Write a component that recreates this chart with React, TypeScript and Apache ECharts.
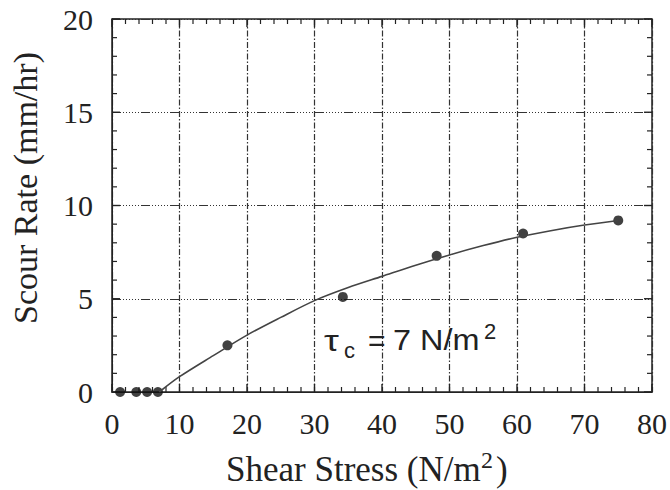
import React, { useEffect, useRef } from "react";
import * as echarts from "echarts";

// Measured data (shear stress N/m², scour rate mm/hr)
const measuredX = [1.2, 3.6, 5.2, 6.8, 17.1, 34.2, 48.1, 60.9, 75.0];
const measuredY = [0, 0, 0, 0, 2.5, 5.1, 7.3, 8.5, 9.2];

// Fitted curve
const fitX = [7, 10, 15, 20, 25, 30, 35, 40, 45, 50, 55, 60, 65, 70, 75];
const fitY = [0, 0.82, 1.95, 3.05, 4.0, 4.9, 5.6, 6.2, 6.8, 7.35, 7.85, 8.3, 8.65, 8.95, 9.2];

// Tick labels
const xTicks = [0, 10, 20, 30, 40, 50, 60, 70, 80];
const yTicks = [0, 5, 10, 15, 20];
const minorPerMajor = 5;

const SERIF = "Liberation Serif";
const SANS = "Liberation Sans";
const INK = "#222";

export default function App() {
  const ref = useRef<HTMLDivElement>(null);
  useEffect(() => {
    if (!ref.current) return;
    const chart = echarts.init(ref.current, undefined, { renderer: "svg" });
    const xMin = xTicks[0];
    const xMax = xTicks[xTicks.length - 1];
    const yMin = yTicks[0];
    const yMax = yTicks[yTicks.length - 1];
    const xStep = xTicks[1] - xTicks[0];
    const yStep = yTicks[1] - yTicks[0];

    chart.setOption({
      animation: false,
      textStyle: { fontFamily: SERIF },
      grid: {
        left: 112, top: 19, right: 18, bottom: 98,
        show: true, borderColor: INK, borderWidth: 1.5, backgroundColor: "transparent",
      },
      xAxis: {
        type: "value", min: xMin, max: xMax, interval: xStep,
        axisLine: { show: true, lineStyle: { color: INK } },
        axisTick: { show: false },
        minorTick: { show: false },
        axisLabel: { show: false },
        splitLine: { show: true, lineStyle: { color: "#333", width: 1.2, type: [6, 2, 1.5, 2] } },
      },
      yAxis: {
        type: "value", min: yMin, max: yMax, interval: yStep,
        axisLine: { show: true, lineStyle: { color: INK } },
        axisTick: { show: false },
        minorTick: { show: false },
        axisLabel: { show: false },
        splitLine: { show: true, lineStyle: { color: "#333", width: 1.2, type: [9, 2, 1, 2, 1, 2, 1, 2, 1, 2, 1, 2, 1, 2] } },
      },
      series: [
        {
          type: "line",
          data: fitX.map((x, i) => [x, fitY[i]]),
          smooth: 0.3,
          showSymbol: false,
          lineStyle: { color: "#444", width: 1.6 },
          itemStyle: { color: "#444" },
        },
        {
          type: "scatter",
          data: measuredX.map((x, i) => [x, measuredY[i]]),
          symbolSize: 10,
          itemStyle: { color: "#111" },
        },
      ],
    });

    // Ticks and tick labels placed through the chart's own scales
    const px = (x: number, y: number) => chart.convertToPixel({ gridIndex: 0 }, [x, y]) as number[];
    const [left, bottom] = px(xMin, yMin);
    const [right, top] = px(xMax, yMax);
    const els: any[] = [];
    const tickLine = (x1: number, y1: number, x2: number, y2: number, w: number) =>
      els.push({ type: "line", silent: true, shape: { x1, y1, x2, y2 }, style: { stroke: INK, lineWidth: w } });

    const MAJ = 8;
    const MIN = 5;
    for (let i = 0; i < xTicks.length - 1; i++) {
      for (let k = 1; k < minorPerMajor; k++) {
        const v = xTicks[i] + (k * (xTicks[i + 1] - xTicks[i])) / minorPerMajor;
        const x = px(v, yMin)[0];
        tickLine(x, bottom, x, bottom - MIN, 1.2);
        tickLine(x, top, x, top + MIN, 1.2);
      }
    }
    xTicks.forEach((v) => {
      const x = px(v, yMin)[0];
      tickLine(x, bottom, x, bottom - MAJ, 1.4);
      tickLine(x, top, x, top + MAJ, 1.4);
      els.push({
        type: "text", silent: true, x, y: bottom + 31,
        style: { text: String(v), fontFamily: SERIF, fontSize: 30, fill: INK, align: "center", verticalAlign: "middle" },
      });
    });
    for (let i = 0; i < yTicks.length - 1; i++) {
      for (let k = 1; k < minorPerMajor; k++) {
        const v = yTicks[i] + (k * (yTicks[i + 1] - yTicks[i])) / minorPerMajor;
        const y = px(xMin, v)[1];
        tickLine(left, y, left + MIN, y, 1.2);
        tickLine(right, y, right - MIN, y, 1.2);
      }
    }
    yTicks.forEach((v) => {
      const y = px(xMin, v)[1];
      tickLine(left, y, left + MAJ, y, 1.4);
      tickLine(right, y, right - MAJ, y, 1.4);
      els.push({
        type: "text", silent: true, x: left - 19, y,
        style: { text: String(v), fontFamily: SERIF, fontSize: 30, fill: INK, align: "right", verticalAlign: "middle" },
      });
    });

    // Axis titles
    els.push(
      {
        type: "text", x: 25, y: 188, rotation: Math.PI / 2,
        style: { text: "Scour Rate (mm/hr)", fontFamily: SERIF, fontSize: 34, fill: INK, align: "center", verticalAlign: "middle" },
      },
      {
        type: "text", x: 226, y: 469,
        style: { text: "Shear Stress (N/m", fontFamily: SERIF, fontSize: 35, fill: INK, align: "left", verticalAlign: "middle" },
      },
      {
        type: "text", x: 481, y: 460,
        style: { text: "2", fontFamily: SERIF, fontSize: 24, fill: INK, align: "left", verticalAlign: "middle" },
      },
      {
        type: "text", x: 496, y: 469,
        style: { text: ")", fontFamily: SERIF, fontSize: 35, fill: INK, align: "left", verticalAlign: "middle" },
      },
      // Annotation τc = 7 N/m²
      {
        type: "text", x: 324, y: 340, scaleX: 1.25,
        style: { text: "τ", fontFamily: SANS, fontSize: 30, fill: INK, align: "left", verticalAlign: "middle" },
      },
      {
        type: "text", x: 344, y: 350,
        style: { text: "c", fontFamily: SANS, fontSize: 22, fill: INK, align: "left", verticalAlign: "middle" },
      },
      {
        type: "text", x: 368, y: 340,
        style: { text: "=", fontFamily: SANS, fontSize: 30, fill: INK, align: "left", verticalAlign: "middle" },
      },
      {
        type: "text", x: 393, y: 340, scaleX: 1.08,
        style: { text: "7 N/m", fontFamily: SANS, fontSize: 30, fill: INK, align: "left", verticalAlign: "middle" },
      },
      {
        type: "text", x: 484, y: 331,
        style: { text: "2", fontFamily: SANS, fontSize: 22, fill: INK, align: "left", verticalAlign: "middle" },
      }
    );

    chart.setOption({ graphic: els });
    return () => chart.dispose();
  }, []);
  return <div ref={ref} style={{ position: "fixed", left: 0, top: 0, width: 670, height: 490, background: "#fff" }} />;
}
